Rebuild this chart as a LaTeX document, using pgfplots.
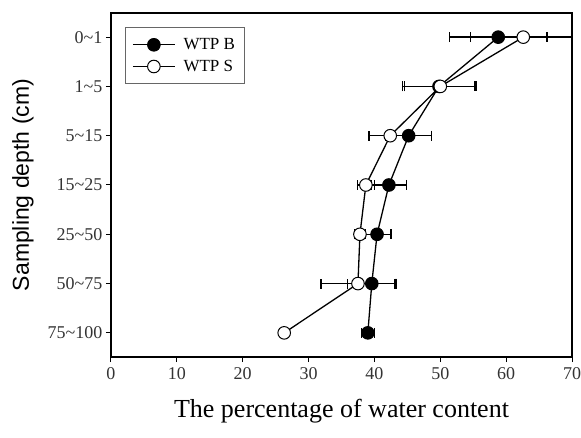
\documentclass[border=0pt]{standalone}
\usepackage{fontspec}
\setmainfont{Liberation Serif}
\newfontfamily\arialfont{Liberation Sans}
\usepackage{pgfplots}
\pgfplotsset{compat=1.18}
\begin{document}
\begin{tikzpicture}
\begin{axis}[
  scale only axis,
  width=461pt, height=344pt,
  xmin=0, xmax=70, ymin=-0.49, ymax=6.49,
  xtick={0,10,...,70},
  ytick={0,1,2,3,4,5,6},
  yticklabels={75\textasciitilde 100,50\textasciitilde 75,25\textasciitilde 50,15\textasciitilde 25,5\textasciitilde 15,1\textasciitilde 5,0\textasciitilde 1},
  tick align=outside,
  tick pos=left,
  major tick length=5pt,
  tick style={line width=1pt, black},
  axis line style={line width=1.3pt},
  /pgf/number format/assume math mode=true,
  tick label style={font=\fontsize{18}{18}\selectfont, text=black!80},
  xticklabel style={yshift=-2pt},
  xlabel={The percentage of water content},
  xlabel style={font=\fontsize{26}{26}\selectfont, at={(axis description cs:0.5,0)}, anchor=base, yshift=-60pt},
  ylabel={Sampling depth (cm)},
  ylabel style={font=\arialfont\fontsize{23}{23}\selectfont, at={(axis description cs:-0.191,0.5)}, anchor=center},
  legend style={at={(0.03,0.959)}, anchor=north west, draw=black!60, line width=0.8pt,
    font=\fontsize{17}{17}\selectfont, inner xsep=7pt, inner ysep=9pt, row sep=5pt,
    column sep=6pt, cells={anchor=west}},
  legend image code/.code={
    \draw[mark repeat=2, mark phase=2, #1] plot coordinates {(0pt,0pt) (21pt,0pt) (42pt,0pt)};
  },
  legend cell align=left,
]
\addplot[black, line width=1.3pt, mark=*, mark size=6.3pt, mark options={fill=black, line width=1pt},
  error bars/.cd, x dir=both, x explicit,
  error bar style={line width=1.4pt},
  error mark options={line width=1.4pt, mark size=5pt, rotate=90}]
  coordinates {
  (58.8,6) +- (7.4,0)
  (49.8,5) +- (5.5,0)
  (45.2,4) +- (3.5,0)
  (42.2,3) +- (2.7,0)
  (40.4,2) +- (2.1,0)
  (39.6,1) +- (3.7,0)
  (39.0,0) +- (1.0,0)
  };
\addlegendentry{WTP B}
\addplot[black, line width=1.3pt, mark=*, mark size=6.3pt, mark options={fill=white, line width=1pt},
  error bars/.cd, x dir=both, x explicit,
  error bar style={line width=1.4pt},
  error mark options={line width=1.4pt, mark size=5pt, rotate=90}]
  coordinates {
  (62.6,6) +- (8.0,0)
  (50.0,5) +- (5.4,0)
  (42.4,4) +- (3.2,0)
  (38.7,3) +- (1.3,0)
  (37.8,2) +- (0.8,0)
  (37.5,1) +- (5.6,0)
  (26.3,0) +- (0.5,0)
  };
\addlegendentry{WTP S}
\end{axis}
\pgfresetboundingbox
\path ([xshift=-111pt,yshift=-80pt]current axis.south west) rectangle ([xshift=9pt,yshift=13pt]current axis.north east);
\end{tikzpicture}
\end{document}
